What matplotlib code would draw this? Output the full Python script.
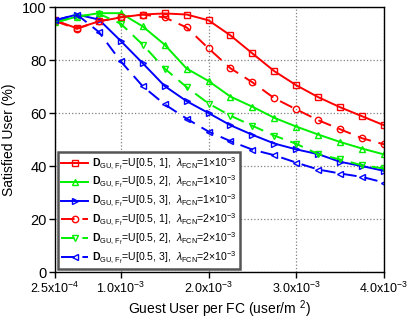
import matplotlib
matplotlib.use("Agg")
import matplotlib.pyplot as plt
import numpy as np

plt.rcParams['font.family'] = ['Liberation Sans', 'DejaVu Sans']
plt.rcParams['mathtext.fontset'] = 'custom'
plt.rcParams['mathtext.rm'] = 'Liberation Sans'
plt.rcParams['mathtext.it'] = 'Liberation Sans:italic'
plt.rcParams['mathtext.bf'] = 'Liberation Sans:bold'

x = [2.5e-4 * k for k in range(1, 17)]

red_sq = [95.0, 92.0, 94.6, 96.1, 97.2, 97.6, 97.2, 95.0, 89.3, 82.5, 75.8, 70.5, 66.0, 62.2, 58.8, 55.4]
green_up = [94.2, 96.4, 97.7, 97.7, 92.7, 85.8, 76.8, 72.1, 66.2, 62.4, 58.2, 54.9, 51.9, 49.1, 46.6, 44.4]
blue_right = [95.0, 97.2, 95.3, 87.2, 78.8, 70.2, 64.5, 60.0, 55.4, 51.8, 48.5, 46.3, 44.5, 41.6, 40.0, 38.2]
red_circ = [94.7, 91.8, 94.7, 96.2, 97.2, 96.1, 92.3, 84.4, 76.9, 71.6, 65.6, 61.4, 57.3, 53.9, 50.5, 48.2]
green_down = [94.2, 96.4, 97.5, 93.7, 85.8, 76.8, 69.8, 63.6, 59.0, 55.2, 51.5, 48.4, 44.5, 42.5, 40.3, 39.1]
blue_left = [95.0, 97.2, 90.6, 79.5, 70.1, 63.3, 57.9, 53.0, 49.4, 46.2, 44.1, 41.3, 38.7, 37.2, 35.9, 33.8]

series = [
    (red_sq, 'red', 's', '-', '1', '1'),
    (green_up, '#00f000', '^', '-', '2', '1'),
    (blue_right, 'blue', '>', '-', '3', '1'),
    (red_circ, 'red', 'o', '--', '1', '2'),
    (green_down, '#00f000', 'v', '--', '2', '2'),
    (blue_left, 'blue', '<', '--', '3', '2'),
]

xticks = [2.5e-4, 1e-3, 2e-3, 3e-3, 4e-3]
xticklabels = ['2.5x10$^{-4}$', '1.0x10$^{-3}$', '2.0x10$^{-3}$', '3.0x10$^{-3}$', '4.0x10$^{-3}$']
yticks = [0, 20, 40, 60, 80, 100]

fig = plt.figure(figsize=(4.09, 3.22), dpi=100)
ax = fig.add_axes([0.1345, 0.155, 0.8045, 0.823])

for vals, c, m, ls, u, lam in series:
    label = (r'$\mathbf{D}_{\mathrm{GU,\,F_f}}$=U[0.5, ' + u + r'],  $\lambda_{\mathrm{FCN}}$=' + lam + r'$\times$10$^{-3}$')
    line, = ax.plot(x, vals, color=c, marker=m, linestyle=ls, lw=1.4,
                    markersize=4.6, markerfacecolor='none', markeredgewidth=1.0,
                    label=label)
    if ls == '--':
        line.set_dashes([7, 4])

ax.set_xlim(2.5e-4, 4e-3)
ax.set_ylim(0, 100)
ax.set_xticks(xticks)
ax.set_xticklabels(xticklabels)
ax.set_yticks(yticks)
ax.tick_params(direction='out', length=4, width=1, pad=2)
ax.tick_params(axis='y', labelsize=10.5)
ax.tick_params(axis='x', labelsize=9)
ax.grid(True, linestyle=':', color='gray', linewidth=0.9)
for s in ax.spines.values():
    s.set_linewidth(1.0)

ax.set_xlabel('Guest User per FC (user/m $^{2}$)', fontsize=10, labelpad=2)
ax.set_ylabel('Satisfied User (%)', fontsize=10, labelpad=4)

leg = ax.legend(loc='lower left', bbox_to_anchor=(0.0, 0.0), fontsize=7.6,
                frameon=True, fancybox=False, handlelength=2.5, handletextpad=0.4,
                borderpad=0.3, labelspacing=0.2, borderaxespad=0.3)
leg.get_frame().set_edgecolor('#555555')
leg.get_frame().set_linewidth(1.8)
leg.get_frame().set_alpha(1.0)

fig.savefig('out.png', dpi=100)
